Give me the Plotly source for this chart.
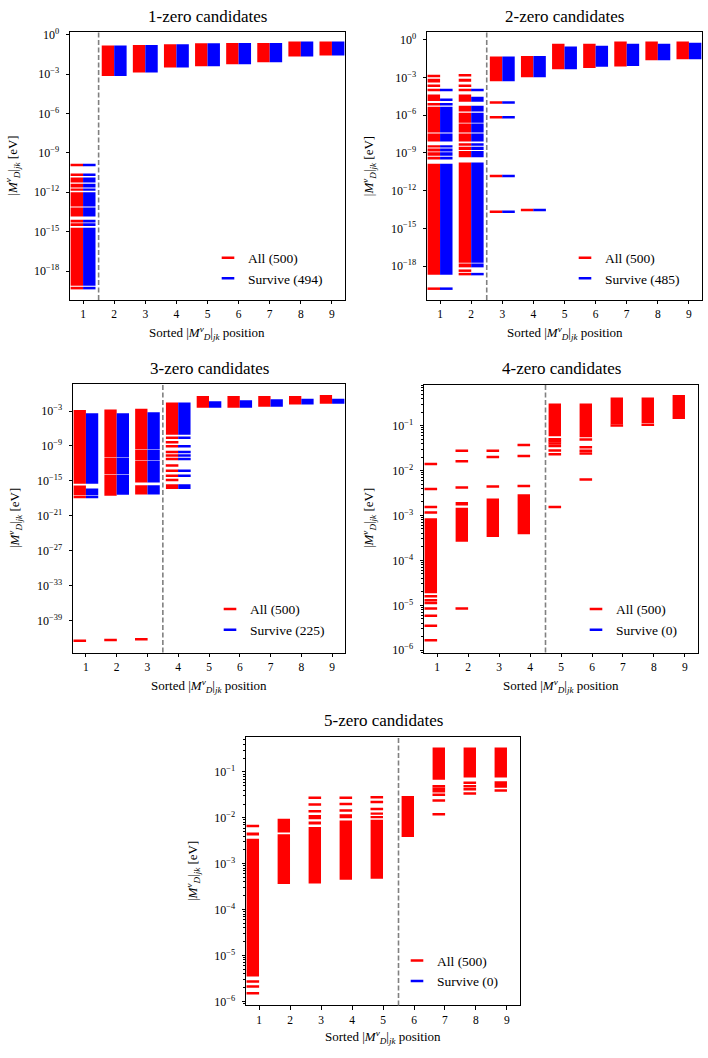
import plotly.graph_objects as go

W, H = 708, 1058
RED = "#ff0000"
BLUE = "#0000ff"
FONT = "Liberation Serif"

# ---------------- data ----------------
N_ZEROS = [1, 2, 3, 4, 5]
N_ALL = [500, 500, 500, 500, 500]
N_SURVIVE = [494, 485, 225, 0, 0]
POSITIONS = [1, 2, 3, 4, 5, 6, 7, 8, 9]

# (position, low, high) dense ranges of |M_D|_jk values [eV]; (position, value) isolated values
P1_ALL_RANGES = [
    (1, 1.7e-11, 2.7e-11), (1, 5.6e-12, 1.3e-11), (1, 2.3e-12, 4.4e-12), (1, 1.3e-12, 1.9e-12),
    (1, 8.1e-14, 1.0e-12), (1, 1.4e-14, 6.9e-14), (1, 5.0e-15, 7.9e-15), (1, 2.7e-15, 4.3e-15),
    (1, 7.6e-20, 2.0e-15), (1, 4.0e-20, 6.3e-20),
    (2, 7.2e-4, 0.148), (3, 1.29e-3, 0.166), (4, 3.2e-3, 0.186), (5, 3.9e-3, 0.224),
    (6, 5.5e-3, 0.234), (7, 7.8e-3, 0.234), (8, 2.2e-2, 0.295), (9, 2.6e-2, 0.295),
]
P1_ALL_LINES = [(1, 1.2e-10)]
P1_SURV_RANGES = [
    (1, 1.7e-11, 2.7e-11), (1, 5.6e-12, 1.3e-11), (1, 2.3e-12, 4.4e-12), (1, 1.3e-12, 1.9e-12),
    (1, 8.1e-14, 1.0e-12), (1, 1.4e-14, 6.9e-14), (1, 5.0e-15, 7.9e-15), (1, 2.7e-15, 4.3e-15),
    (1, 7.6e-20, 2.0e-15), (1, 4.0e-20, 6.3e-20),
    (2, 7.2e-4, 0.148), (3, 1.29e-3, 0.166), (4, 3.2e-3, 0.186), (5, 3.9e-3, 0.224),
    (6, 5.5e-3, 0.234), (7, 7.8e-3, 0.234), (8, 2.2e-2, 0.295), (9, 2.6e-2, 0.295),
]
P1_SURV_LINES = [(1, 1.2e-10)]

P2_ALL_RANGES = [
    (1, 3.9e-4, 7.9e-4), (1, 1.3e-5, 4.4e-5), (1, 4.1e-8, 4.5e-6), (1, 8.1e-9, 3.4e-8),
    (1, 2.7e-9, 4.0e-9), (1, 1.3e-9, 2.2e-9), (1, 5.9e-10, 1.1e-9), (1, 3.4e-10, 4.9e-10),
    (1, 2.0e-19, 1.35e-10),
    (2, 4.4e-4, 7.9e-4), (2, 1.15e-5, 4.4e-5), (2, 1.9e-6, 5.6e-6), (2, 2.5e-7, 1.55e-6),
    (2, 4.1e-8, 2.1e-7), (2, 8.1e-9, 3.4e-8), (2, 3.6e-9, 5.8e-9), (2, 1.66e-9, 3.0e-9),
    (2, 4.5e-10, 1.38e-9), (2, 1.8e-18, 1.74e-10), (2, 7.9e-19, 1.6e-18),
    (3, 4.9e-4, 4.6e-2), (4, 1.0e-3, 4.9e-2), (5, 4.4e-3, 0.46), (6, 5.5e-3, 0.46),
    (7, 7.4e-3, 0.69), (8, 2.3e-2, 0.69), (9, 2.8e-2, 0.69),
]
P2_ALL_LINES = [
    (1, 1.29e-3), (1, 2.1e-4), (1, 1.0e-4), (1, 7.2e-6), (1, 1.6e-20),
    (2, 1.45e-3), (2, 2.1e-4), (2, 1.0e-4), (2, 4.3e-19), (2, 2.3e-19),
    (3, 1.0e-5), (3, 6.8e-7), (3, 1.45e-11), (3, 2.1e-14),
    (4, 2.9e-14),
]
P2_SURV_RANGES = [
    (1, 1.3e-5, 2.1e-5), (1, 4.1e-8, 4.5e-6), (1, 8.1e-9, 3.4e-8), (1, 2.7e-9, 4.0e-9),
    (1, 1.3e-9, 2.2e-9), (1, 5.9e-10, 1.1e-9), (1, 3.4e-10, 4.9e-10), (1, 2.0e-19, 1.35e-10),
    (2, 1.15e-5, 2.9e-5), (2, 1.9e-6, 5.6e-6), (2, 2.5e-7, 1.55e-6), (2, 4.1e-8, 2.1e-7),
    (2, 8.1e-9, 3.4e-8), (2, 3.6e-9, 5.8e-9), (2, 1.66e-9, 3.0e-9), (2, 4.5e-10, 1.38e-9),
    (2, 1.8e-18, 1.74e-10), (2, 7.9e-19, 1.6e-18),
    (3, 4.9e-4, 4.6e-2), (4, 1.0e-3, 4.9e-2), (5, 4.4e-3, 0.28), (6, 7.1e-3, 0.32),
    (7, 7.9e-3, 0.46), (8, 2.3e-2, 0.46), (9, 2.8e-2, 0.55),
]
P2_SURV_LINES = [
    (1, 1.0e-4), (1, 7.2e-6), (1, 1.6e-20), (2, 1.0e-4), (2, 2.3e-19),
    (3, 1.0e-5), (3, 6.8e-7), (3, 1.45e-11), (3, 2.1e-14), (4, 2.9e-14),
]

P3_ALL_RANGES = [
    (1, 3.2e-16, 1.5e-3), (1, 3.5e-18, 1.6e-16), (1, 1.0e-18, 2.8e-18),
    (2, 1.26e-11, 1.86e-3), (2, 1.4e-14, 1.05e-11), (2, 2.7e-18, 1.1e-14),
    (3, 2.5e-10, 2.45e-3), (3, 3.8e-12, 2.1e-10), (3, 5.0e-16, 3.2e-12), (3, 4.5e-18, 1.74e-16),
    (4, 8.3e-8, 2.9e-2), (4, 1.48e-8, 4.3e-8), (4, 4.0e-17, 2.5e-16),
    (5, 3.6e-3, 0.4), (6, 3.6e-3, 0.4), (7, 5.4e-3, 0.4), (8, 1.3e-2, 0.4), (9, 1.74e-2, 0.59),
]
P3_ALL_LINES = [
    (1, 3.2e-43), (2, 4.5e-43), (3, 6.3e-43),
    (4, 4.1e-9), (4, 8.5e-10), (4, 9.1e-11), (4, 2.2e-11), (4, 5.9e-12), (4, 4.5e-13),
    (4, 5.4e-14), (4, 7.6e-15), (4, 1.4e-15),
]
P3_SURV_RANGES = [
    (1, 3.2e-16, 4.0e-4), (1, 3.5e-18, 5.0e-17), (1, 1.0e-18, 2.8e-18),
    (2, 1.26e-11, 4.0e-4), (2, 1.4e-14, 1.05e-11), (2, 4.0e-18, 1.1e-14),
    (3, 2.5e-10, 5.9e-4), (3, 3.8e-12, 2.1e-10), (3, 5.0e-16, 3.2e-12), (3, 4.5e-18, 1.74e-16),
    (4, 8.3e-8, 2.9e-2), (4, 1.48e-8, 4.3e-8), (4, 4.0e-17, 2.5e-16),
    (5, 3.6e-3, 5.0e-2), (6, 3.6e-3, 7.4e-2), (7, 5.4e-3, 0.11), (8, 1.3e-2, 0.126), (9, 1.74e-2, 0.126),
]
P3_SURV_LINES = [(4, 8.5e-10), (4, 9.1e-11), (4, 2.2e-11), (4, 5.9e-12), (4, 5.4e-14), (4, 7.6e-15)]

P4_ALL_RANGES = [
    (1, 1.86e-5, 8.7e-4),
    (2, 1.66e-3, 2.0e-3), (2, 2.6e-4, 1.48e-3),
    (3, 3.3e-4, 2.4e-3), (4, 3.8e-4, 2.95e-3),
    (5, 5.8e-2, 0.31), (6, 5.5e-2, 0.31), (7, 0.107, 0.42), (8, 0.115, 0.42), (9, 0.14, 0.48),
]
P4_ALL_LINES = [
    (1, 1.4e-2), (1, 3.9e-3), (1, 1.55e-3), (1, 1.17e-3), (1, 1.6e-5), (1, 1.3e-5), (1, 1.12e-5),
    (1, 8.5e-6), (1, 5.9e-6), (1, 3.5e-6), (1, 1.66e-6),
    (2, 2.75e-2), (2, 1.6e-2), (2, 4.2e-3), (2, 8.5e-6),
    (3, 2.75e-2), (3, 2.0e-2), (3, 4.4e-3),
    (4, 3.7e-2), (4, 2.1e-2), (4, 4.5e-3),
    (5, 5.0e-2), (5, 4.5e-2), (5, 4.0e-2), (5, 3.5e-2), (5, 2.8e-2), (5, 2.3e-2), (5, 1.55e-3),
    (6, 4.9e-2), (6, 3.3e-2), (6, 2.75e-2), (6, 2.4e-2), (6, 6.3e-3),
    (7, 0.1), (8, 0.105),
]
P4_SURV_RANGES = []
P4_SURV_LINES = []

P5_ALL_RANGES = [
    (1, 4.1e-3, 4.8e-3), (1, 3.5e-6, 3.5e-3),
    (2, 4.8e-3, 9.5e-3), (2, 3.6e-4, 4.4e-3),
    (3, 9.3e-3, 1.15e-2), (3, 7.2e-3, 8.3e-3), (3, 3.7e-4, 6.3e-3),
    (4, 9.8e-3, 1.2e-2), (4, 4.5e-4, 8.7e-3),
    (5, 1.17e-2, 1.3e-2), (5, 9.8e-3, 1.1e-2), (5, 4.7e-4, 9.1e-3),
    (6, 3.8e-3, 3.0e-2),
    (7, 6.8e-2, 0.34), (8, 7.6e-2, 0.34),
    (9, 7.6e-2, 0.34), (9, 4.5e-2, 6.3e-2), (9, 3.7e-2, 4.2e-2),
]
P5_ALL_LINES = [
    (1, 6.6e-3), (1, 2.7e-6), (1, 2.1e-6), (1, 1.5e-6),
    (3, 2.75e-2), (3, 1.95e-2), (3, 1.4e-2),
    (4, 2.75e-2), (4, 2.0e-2), (4, 1.45e-2),
    (5, 2.8e-2), (5, 2.2e-2), (5, 1.55e-2),
    (7, 4.9e-2), (7, 4.3e-2), (7, 3.8e-2), (7, 3.2e-2), (7, 2.4e-2), (7, 1.2e-2),
    (8, 5.8e-2), (8, 4.9e-2), (8, 4.2e-2), (8, 3.4e-2),
]
P5_SURV_RANGES = []
P5_SURV_LINES = []

# y tick exponents per panel
P1_YTICK_EXP = [0, -3, -6, -9, -12, -15, -18]
P2_YTICK_EXP = [0, -3, -6, -9, -12, -15, -18]
P3_YTICK_EXP = [-3, -9, -15, -21, -27, -33, -39]
P4_YTICK_EXP = [-1, -2, -3, -4, -5, -6]
P5_YTICK_EXP = [-1, -2, -3, -4, -5, -6]

# ---------------- layout (pixel geometry) ----------------
PANELS = [
    dict(ar=P1_ALL_RANGES, al=P1_ALL_LINES, sr=P1_SURV_RANGES, sl=P1_SURV_LINES, yt=P1_YTICK_EXP,
         xpx=(70, 345), ypx=(26.7, 297), yr=(-20.2, 0.17), minor=False,
         title_y=11, xlab_y=330, ylab_x=12.5, leg=(208, 239)),
    dict(ar=P2_ALL_RANGES, al=P2_ALL_LINES, sr=P2_SURV_RANGES, sl=P2_SURV_LINES, yt=P2_YTICK_EXP,
         xpx=(427, 702), ypx=(26.7, 297), yr=(-20.69, 0.57), minor=False,
         title_y=11, xlab_y=330, ylab_x=369, leg=(565, 239)),
    dict(ar=P3_ALL_RANGES, al=P3_ALL_LINES, sr=P3_SURV_RANGES, sl=P3_SURV_LINES, yt=P3_YTICK_EXP,
         xpx=(73, 345), ypx=(381.7, 653.3), yr=(-44.5, 1.69), minor=False,
         title_y=366, xlab_y=687, ylab_x=15, leg=(210, 594)),
    dict(ar=P4_ALL_RANGES, al=P4_ALL_LINES, sr=P4_SURV_RANGES, sl=P4_SURV_LINES, yt=P4_YTICK_EXP,
         xpx=(424, 698), ypx=(382.7, 653.3), yr=(-6.05, -0.09), minor=True,
         title_y=366, xlab_y=687, ylab_x=368.5, leg=(576, 594)),
    dict(ar=P5_ALL_RANGES, al=P5_ALL_LINES, sr=P5_SURV_RANGES, sl=P5_SURV_LINES, yt=P5_YTICK_EXP,
         xpx=(246, 520), ypx=(738.3, 1010), yr=(-6.09, -0.23), minor=True,
         title_y=722, xlab_y=1042, ylab_x=193, leg=(397, 949)),
]

OFFSET = {"all": -0.2, "surv": 0.2}
BAR_W = 0.4
MARK_SIZE = 9
MARK_LW = 2.5

XLABEL = "Sorted |<i>M</i><sup><i>ν</i></sup><sub><i>D</i></sub>|<sub><i>jk</i></sub> position"
YLABEL = "|<i>M</i><sup><i>ν</i></sup><sub><i>D</i></sub>|<sub><i>jk</i></sub> [eV]"

fig = go.Figure()
layout = dict(
    width=W, height=H, margin=dict(l=0, r=0, t=0, b=0),
    paper_bgcolor="white", plot_bgcolor="white",
    barmode="overlay", font=dict(family=FONT, color="black", size=12),
    annotations=[], shapes=[],
)


def fx(px):
    return px / W


def fy(py):
    return 1 - py / H


for i, p in enumerate(PANELS, start=1):
    xa = "x" if i == 1 else f"x{i}"
    ya = "y" if i == 1 else f"y{i}"
    leg = "legend" if i == 1 else f"legend{i}"
    for key, color, rng, lines in (("all", RED, p["ar"], p["al"]), ("surv", BLUE, p["sr"], p["sl"])):
        off = OFFSET[key]
        if rng:
            fig.add_trace(go.Bar(
                x=[q + off for q, lo, hi in rng], base=[lo for q, lo, hi in rng],
                y=[hi - lo for q, lo, hi in rng], width=BAR_W,
                marker=dict(color=color, line=dict(width=0)),
                showlegend=False, xaxis=xa, yaxis=ya, hoverinfo="skip"))
        if lines:
            fig.add_trace(go.Scatter(
                x=[q + off for q, v in lines], y=[v for q, v in lines], mode="markers",
                marker=dict(symbol="line-ew", size=MARK_SIZE, line=dict(color=color, width=MARK_LW)),
                showlegend=False, xaxis=xa, yaxis=ya, hoverinfo="skip"))
    # legend entries
    for name, color in ((f"All ({N_ALL[i-1]})", RED), (f"Survive ({N_SURVIVE[i-1]})", BLUE)):
        fig.add_trace(go.Scatter(
            x=[None], y=[None], mode="markers", name=name,
            marker=dict(symbol="line-ew", size=MARK_SIZE, line=dict(color=color, width=MARK_LW)),
            showlegend=True, legend=leg, xaxis=xa, yaxis=ya))
    layout[leg] = dict(x=fx(p["leg"][0]), y=fy(p["leg"][1]), xanchor="left", yanchor="top",
                       bgcolor="rgba(0,0,0,0)", font=dict(family=FONT, size=13.5),
                       tracegroupgap=0)

    xd = [fx(p["xpx"][0]), fx(p["xpx"][1])]
    yd = [fy(p["ypx"][1]), fy(p["ypx"][0])]
    axkey = "xaxis" if i == 1 else f"xaxis{i}"
    aykey = "yaxis" if i == 1 else f"yaxis{i}"
    layout[axkey] = dict(domain=xd, anchor=ya, range=[0.58, 9.42], tickmode="array",
                         tickvals=POSITIONS, ticktext=[str(v) for v in POSITIONS],
                         ticks="outside", ticklen=3.5, tickwidth=0.8, tickcolor="black",
                         showline=True, linecolor="black", linewidth=1, mirror=True,
                         showgrid=False, zeroline=False, tickfont=dict(size=11.5),
                         fixedrange=True)
    ytv = [10.0 ** e for e in p["yt"]]
    ytt = ["10<sup>" + (str(e) if e >= 0 else "\u2212" + str(-e)) + "</sup>" for e in p["yt"]]
    yax = dict(domain=yd, anchor=xa, type="log", range=list(p["yr"]), tickmode="array",
               tickvals=ytv, ticktext=ytt, ticks="outside", ticklen=3.5, tickwidth=0.8,
               tickcolor="black", showline=True, linecolor="black", linewidth=1, mirror=True,
               showgrid=False, zeroline=False, tickfont=dict(size=12), fixedrange=True,
               ticklabelstandoff=4)
    if p["minor"]:
        mv = [m * 10.0 ** e for e in range(-7, 1) for m in range(2, 10)]
        yax["minor"] = dict(tickmode="array", tickvals=mv, ticks="outside", ticklen=2,
                            tickwidth=0.6, tickcolor="black", showgrid=False)
    layout[aykey] = yax

    n0 = N_ZEROS[i - 1]
    layout["shapes"].append(dict(type="line", xref=xa, yref=f"{ya} domain", x0=n0 + 0.5, x1=n0 + 0.5,
                                 y0=0, y1=1, line=dict(color="#808080", width=1.6, dash="5px,2.5px")))
    cx = (p["xpx"][0] + p["xpx"][1]) / 2
    cy = (p["ypx"][0] + p["ypx"][1]) / 2
    layout["annotations"].append(dict(text=f"{n0}-zero candidates", x=fx(cx), y=fy(p["title_y"]),
                                      xref="paper", yref="paper", showarrow=False,
                                      xanchor="center", yanchor="middle", font=dict(size=17)))
    layout["annotations"].append(dict(text=XLABEL, x=fx(cx), y=fy(p["xlab_y"]), xref="paper", yref="paper",
                                      showarrow=False, xanchor="center", yanchor="middle",
                                      font=dict(size=13)))
    layout["annotations"].append(dict(text=YLABEL, x=fx(p["ylab_x"]), y=fy(cy), xref="paper", yref="paper",
                                      showarrow=False, xanchor="center", yanchor="middle", textangle=-90,
                                      font=dict(size=13)))

fig.update_layout(**layout)
fig.write_html("out.html", config=dict(displayModeBar=False))
